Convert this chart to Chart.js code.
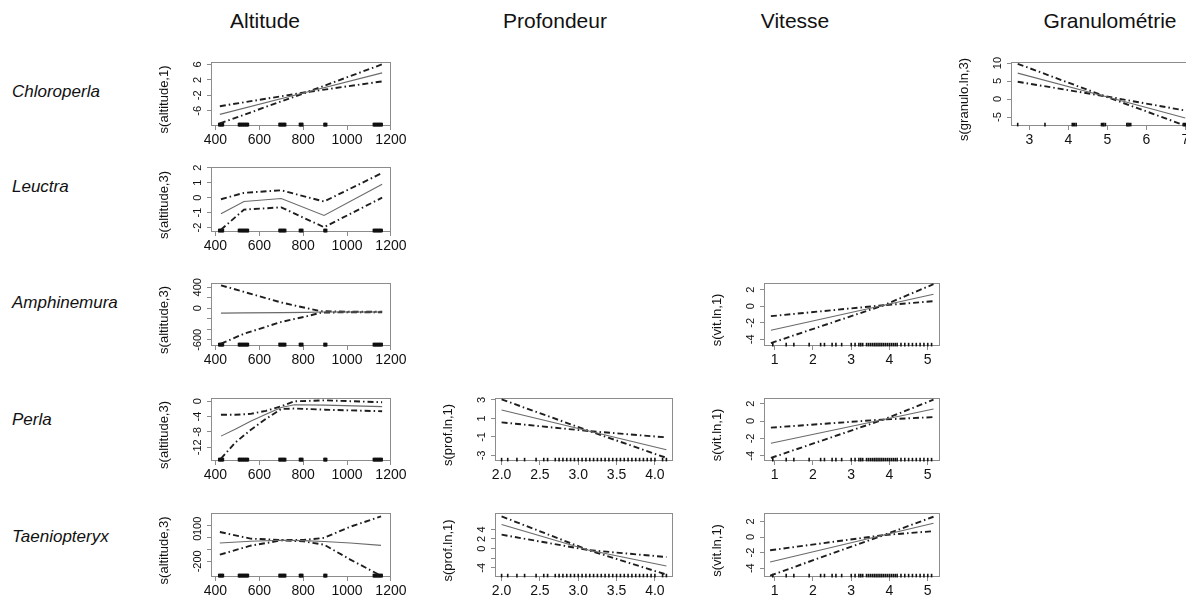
<!DOCTYPE html>
<html><head><meta charset="utf-8">
<script src="https://cdn.jsdelivr.net/npm/chart.js@4.4.1/dist/chart.umd.min.js"></script>
<style>
html,body{margin:0;padding:0;background:#fff;}
#wrap{position:relative;width:1186px;height:596px;overflow:hidden;font-family:"Liberation Sans",Arial,sans-serif;}
.hdr{position:absolute;font-size:21px;color:#111;transform:translate(-50%,-50%);white-space:nowrap;}
.sp{position:absolute;font-size:17px;font-style:italic;color:#111;transform:translateY(-50%);white-space:nowrap;}
canvas{position:absolute;}
</style></head><body><div id="wrap"></div>
<script>
// ---------------- DATA ----------------
const columnTitles = ['Altitude', 'Profondeur', 'Vitesse', 'Granulométrie'];
const speciesNames = ['Chloroperla', 'Leuctra', 'Amphinemura', 'Perla', 'Taeniopteryx'];

// rug (observed covariate values)
const altRug = [415, 418, 421, 424, 427, 430, 433, 436, 505, 508, 511, 514, 517, 520, 523, 526, 529, 532, 535, 538, 541, 544, 547, 550, 690, 693, 696, 699, 702, 705, 708, 711, 714, 717, 720, 783, 786, 789, 792, 795, 798, 895, 898, 901, 904, 907, 1120, 1123, 1126, 1129, 1132, 1135, 1138, 1141, 1144, 1147, 1150, 1153, 1156, 1160];
const profRug = [2.0, 2.08, 2.2, 2.3, 2.45, 2.55, 2.6, 2.7, 2.75, 2.8, 2.85, 2.9, 2.95, 3.0, 3.05, 3.1, 3.15, 3.2, 3.25, 3.3, 3.35, 3.4, 3.45, 3.5, 3.55, 3.6, 3.65, 3.7, 3.75, 3.8, 3.85, 3.9, 3.95, 4.0, 4.1, 4.15];
const vitRug = [0.95, 1.3, 1.5, 1.9, 2.2, 2.3, 2.5, 2.6, 2.75, 3.0, 3.1, 3.2, 3.25, 3.3, 3.4, 3.45, 3.5, 3.55, 3.6, 3.65, 3.7, 3.75, 3.8, 3.85, 3.9, 3.95, 4.0, 4.05, 4.1, 4.15, 4.2, 4.3, 4.4, 4.5, 4.6, 4.7, 4.8, 4.9, 5.0, 5.1];
const granRug = [2.7, 3.4, 4.1, 4.13, 4.16, 4.2, 4.85, 4.88, 4.91, 4.95, 5.5, 5.53, 5.56, 5.6, 6.95, 6.98, 7.0];

// x tick values / labels
const altTicks = [400, 600, 800, 1000, 1200];
const altTickLabels = ['400', '600', '800', '1000', '1200'];
const profTicks = [2.0, 2.5, 3.0, 3.5, 4.0];
const profTickLabels = ['2.0', '2.5', '3.0', '3.5', '4.0'];
const vitTicks = [1, 2, 3, 4, 5];
const vitTickLabels = ['1', '2', '3', '4', '5'];
const granTicks = [3, 4, 5, 6, 7];
const granTickLabels = ['3', '4', '5', '6', '7'];

// Chloroperla – altitude  s(altitude,1)
const chlAltX = [420, 818, 1160];
const chlAltFit = [-6.9, -1.15, 3.8];
const chlAltUp = [-4.8, -1.15, 6.0];
const chlAltLo = [-9.25, -1.15, 1.6];
const chlAltYTicks = [-6, -2, 2, 6];
const chlAltYLabels = ['-6', '-2', '2', '6'];

// Chloroperla – granulometry  s(granulo.ln,3)
const chlGraX = [2.7, 4.93, 7.0];
const chlGraFit = [7.2, 0.8, -5.3];
const chlGraUp = [9.8, 0.8, -3.2];
const chlGraLo = [4.8, 0.8, -7.4];
const chlGraYTicks = [-5, 0, 5, 10];
const chlGraYLabels = ['-5', '0', '5', '10'];

// Leuctra – altitude  s(altitude,3)
const leuAltX = [425, 530, 700, 895, 1160];
const leuAltFit = [-1.08, -0.26, -0.06, -1.19, 0.9];
const leuAltUp = [-0.11, 0.32, 0.49, -0.26, 1.65];
const leuAltLo = [-2.15, -0.8, -0.65, -1.98, 0.0];
const leuAltYTicks = [-2, -1, 0, 1, 2];
const leuAltYLabels = ['-2', '-1', '0', '1', '2'];

// Amphinemura – altitude  s(altitude,3)
const ampAltX = [425, 530, 700, 818, 880, 1000, 1160];
const ampAltFit = [-92, -88, -82, -78, -72, -70, -70];
const ampAltUp = [436, 311, 110, 0, -55, -65, -65];
const ampAltLo = [-673, -485, -260, -150, -85, -75, -75];
const ampAltYTicks = [-600, -400, -200, 0, 200, 400];
const ampAltYLabels = ['-600', '', '', '0', '', '400'];

// Amphinemura – vitesse  s(vit.ln,1)
const ampVitX = [0.9, 3.85, 5.15];
const ampVitFit = [-2.9, 0.12, 1.45];
const ampVitUp = [-1.2, 0.12, 2.65];
const ampVitLo = [-4.45, 0.12, 0.6];
const vitYTicks = [-4, -2, 0, 2];
const vitYLabels = ['-4', '-2', '0', '2'];

// Perla – altitude  s(altitude,3)
const perAltX = [425, 490, 560, 630, 700, 760, 900, 1160];
const perAltFit = [-9.1, -7.3, -5.2, -3.4, -1.6, -0.9, -1.0, -1.4];
const perAltUp = [-3.5, -3.5, -3.3, -2.5, -1.3, 0.0, 0.25, -0.25];
const perAltLo = [-15, -10.8, -7.5, -4.6, -2.0, -1.9, -2.2, -2.6];
const perAltYTicks = [-12, -8, -4, 0];
const perAltYLabels = ['-12', '-8', '-4', '0'];

// Perla – profondeur  s(prof.ln,1)
const perProX = [2.0, 3.15, 4.15];
const perProFit = [1.9, -0.38, -2.38];
const perProUp = [3.05, -0.38, -1.05];
const perProLo = [0.57, -0.38, -3.26];
const perProYTicks = [-3, -1, 1, 3];
const perProYLabels = ['-3', '-1', '1', '3'];

// Perla – vitesse  s(vit.ln,1)
const perVitX = [0.9, 3.85, 5.15];
const perVitFit = [-2.55, 0.18, 1.39];
const perVitUp = [-0.76, 0.18, 2.45];
const perVitLo = [-4.25, 0.18, 0.45];

// Taeniopteryx – altitude  s(altitude,3)
const taeAltX = [420, 560, 700, 800, 895, 1015, 1155];
const taeAltFit = [-45, -30, -22, -25, -32, -45, -65];
const taeAltUp = [48, -8, -20, -20, -2, 93, 180];
const taeAltLo = [-144, -68, -23, -31, -59, -186, -322];
const taeAltYTicks = [-200, -100, 0, 100];
const taeAltYLabels = ['-200', '', '0', '100'];

// Taeniopteryx – profondeur  s(prof.ln,1)
const taeProX = [2.0, 3.13, 4.15];
const taeProFit = [5.0, -0.3, -3.6];
const taeProUp = [6.7, -0.3, -1.75];
const taeProLo = [2.9, -0.3, -5.4];
const taeProYTicks = [-4, -2, 0, 2, 4];
const taeProYLabels = ['-4', '', '0', '2', '4'];

// Taeniopteryx – vitesse  s(vit.ln,1)
const taeVitX = [0.88, 3.85, 5.15];
const taeVitFit = [-3.2, 0.25, 1.77];
const taeVitUp = [-1.7, 0.25, 2.6];
const taeVitLo = [-4.95, 0.25, 0.75];

// ---------------- LAYOUT ----------------
const FONT = '"Liberation Sans", Arial, sans-serif';
const wrap = document.getElementById('wrap');
const colX = [265, 555, 795, 1110];
const rowY = [92, 187, 303, 420, 537];
columnTitles.forEach((t, i) => {
  const d = document.createElement('div'); d.className = 'hdr'; d.textContent = t;
  d.style.left = colX[i] + 'px'; d.style.top = '21px'; wrap.appendChild(d);
});
speciesNames.forEach((t, i) => {
  const d = document.createElement('div'); d.className = 'sp'; d.textContent = t;
  d.style.left = '12px'; d.style.top = rowY[i] + 'px'; wrap.appendChild(d);
});

const colBox = { alt: [210.5, 390.5], prof: [495, 673], vit: [764, 940], gran: [1011, 1192] };
const rowBox = [[62, 126], [167, 232], [283, 346], [398, 461], [513, 577]];
const xRange = { alt: [379.6, 1200.4], prof: [1.914, 4.236], vit: [0.72, 5.32], gran: [2.528, 7.172] };
const xInfo = {
  alt: [altTicks, altTickLabels, altRug],
  prof: [profTicks, profTickLabels, profRug],
  vit: [vitTicks, vitTickLabels, vitRug],
  gran: [granTicks, granTickLabels, granRug]
};

const mctx = document.createElement('canvas').getContext('2d');
function textW(t, px) { mctx.font = px + 'px ' + FONT; return mctx.measureText(t).width; }

const TL = 4;
const boxPlugin = {
  id: 'box',
  beforeDatasetsDraw(chart) {
    const { ctx, chartArea: a } = chart;
    ctx.save(); ctx.strokeStyle = '#8c8c8c'; ctx.lineWidth = 1;
    ctx.strokeRect(Math.round(a.left) + 0.5, Math.round(a.top) + 0.5, Math.round(a.right - a.left) - 1, Math.round(a.bottom - a.top) - 1);
    ctx.restore();
  }
};

function ds(xs, ys, dashed) {
  return {
    data: xs.map((x, i) => ({ x: x, y: ys[i] })),
    borderColor: dashed ? '#1e1e1e' : '#6a6a6a',
    borderWidth: dashed ? 1.9 : 1.1,
    borderDash: dashed ? [6, 3, 1.5, 3] : [],
    pointRadius: 0, tension: 0, fill: false, yAxisID: 'y'
  };
}

function panel(col, row, yTitle, x, fit, up, lo, yMin, yMax, yTicks, yLabels) {
  const [L, R] = colBox[col], [T, B] = rowBox[row];
  const w = R - L, h = B - T;
  const ML = 70, MT = 16, MR = 24, MB = 30;
  const cv = document.createElement('canvas');
  cv.width = Math.round(w + ML + MR); cv.height = Math.round(h + MT + MB);
  cv.style.left = (L - ML) + 'px'; cv.style.top = (T - MT) + 'px';
  wrap.appendChild(cv);
  const [xt, xl, rug] = xInfo[col];
  const YF = 11;
  const widest = Math.max(...yLabels.map(s => textW(s, YF)));
  const yPad = 13 - TL - widest / 2;
  new Chart(cv, {
    type: 'line',
    data: {
      datasets: [
        ds(x, fit, false), ds(x, up, true), ds(x, lo, true),
        {
          data: rug.map(v => ({ x: v, y: 2.2 })), yAxisID: 'yRug', showLine: false,
          pointStyle: 'line', pointRotation: 90, pointRadius: 1.8,
          pointBorderWidth: 1.6, pointBorderColor: '#111', borderColor: '#111', clip: false
        }
      ]
    },
    options: {
      responsive: false, animation: false, devicePixelRatio: 1, events: [],
      layout: { padding: { left: 0, top: MT, right: MR, bottom: 0 } },
      plugins: { legend: { display: false }, tooltip: { enabled: false } },
      scales: {
        x: {
          type: 'linear', min: xRange[col][0], max: xRange[col][1],
          afterBuildTicks: s => { s.ticks = xt.map(v => ({ value: v })); },
          afterFit: s => { s.height = MB; },
          grid: { drawOnChartArea: false, drawTicks: true, tickLength: TL, color: '#8c8c8c' },
          border: { display: false },
          ticks: {
            font: { family: FONT, size: 14 }, color: '#111', padding: 2, maxRotation: 0, minRotation: 0,
            autoSkip: false, callback: (v, i) => xl[i]
          }
        },
        y: {
          type: 'linear', min: yMin, max: yMax,
          afterBuildTicks: s => { s.ticks = yTicks.map(v => ({ value: v })); },
          afterFit: s => { s.width = ML; },
          grid: { drawOnChartArea: false, drawTicks: true, tickLength: TL, color: '#8c8c8c' },
          border: { display: false },
          ticks: {
            font: { family: FONT, size: YF }, color: '#111', padding: yPad, minRotation: 90, maxRotation: 90,
            crossAlign: 'center', autoSkip: false, callback: (v, i) => yLabels[i]
          },
          title: { display: true, text: yTitle + '\u00A0\u00A0\u00A0', font: { family: FONT, size: 13 }, color: '#111', padding: { top: 16, bottom: 0 } }
        },
        yRug: { type: 'linear', axis: 'y', position: 'right', min: 0, max: 100, display: false }
      }
    },
    plugins: [boxPlugin]
  });
}

panel('alt', 0, 's(altitude,1)', chlAltX, chlAltFit, chlAltUp, chlAltLo, -9.9, 6.6, chlAltYTicks, chlAltYLabels);
panel('gran', 0, 's(granulo.ln,3)', chlGraX, chlGraFit, chlGraUp, chlGraLo, -7.5, 10.3, chlGraYTicks, chlGraYLabels);
panel('alt', 1, 's(altitude,3)', leuAltX, leuAltFit, leuAltUp, leuAltLo, -2.3, 2.05, leuAltYTicks, leuAltYLabels);
panel('alt', 2, 's(altitude,3)', ampAltX, ampAltFit, ampAltUp, ampAltLo, -717, 480, ampAltYTicks, ampAltYLabels);
panel('vit', 2, 's(vit.ln,1)', ampVitX, ampVitFit, ampVitUp, ampVitLo, -4.8, 2.8, vitYTicks, vitYLabels);
panel('alt', 3, 's(altitude,3)', perAltX, perAltFit, perAltUp, perAltLo, -15.6, 0.86, perAltYTicks, perAltYLabels);
panel('prof', 3, 's(prof.ln,1)', perProX, perProFit, perProUp, perProLo, -3.6, 3.2, perProYTicks, perProYLabels);
panel('vit', 3, 's(vit.ln,1)', perVitX, perVitFit, perVitUp, perVitLo, -4.6, 2.65, vitYTicks, vitYLabels);
panel('alt', 4, 's(altitude,3)', taeAltX, taeAltFit, taeAltUp, taeAltLo, -333, 209, taeAltYTicks, taeAltYLabels);
panel('prof', 4, 's(prof.ln,1)', taeProX, taeProFit, taeProUp, taeProLo, -5.9, 7.4, taeProYTicks, taeProYLabels);
panel('vit', 4, 's(vit.ln,1)', taeVitX, taeVitFit, taeVitUp, taeVitLo, -5.13, 3.08, vitYTicks, vitYLabels);
</script>
</body></html>
